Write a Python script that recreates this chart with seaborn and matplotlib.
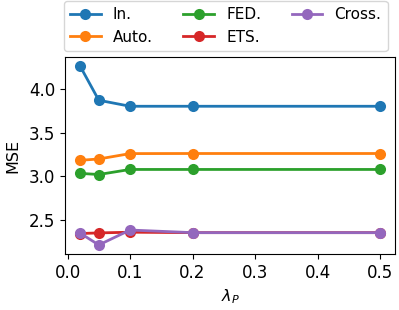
#MSE vs lambda_P for the different methods
import pandas as pd
import seaborn as sns
from matplotlib import pyplot as plt

#values
lam = [0.02, 0.05, 0.1, 0.2, 0.5]
methods = ['In.', 'Auto.', 'FED.', 'ETS.', 'Cross.']
mse_in = [4.267, 3.874, 3.805, 3.805, 3.805]
mse_auto = [3.185, 3.200, 3.262, 3.263, 3.263]
mse_fed = [3.035, 3.022, 3.080, 3.080, 3.080]
mse_ets = [2.345, 2.352, 2.360, 2.355, 2.355]
mse_cross = [2.350, 2.214, 2.385, 2.355, 2.355]

#long form table for seaborn
rows = []
for name, vals in zip(methods, [mse_in, mse_auto, mse_fed, mse_ets, mse_cross]):
    for x, y in zip(lam, vals):
        rows.append({'lam': x, 'MSE': y, 'method': name})
df = pd.DataFrame(rows)

fig = plt.figure(figsize=(3.99, 3.10), dpi=100)
ax = fig.add_axes([0.163, 0.181, 0.827, 0.635])
sns.lineplot(data=df, x='lam', y='MSE', hue='method', hue_order=methods,
             palette=['tab:blue', 'tab:orange', 'tab:green', 'tab:red', 'tab:purple'],
             marker='o', markersize=8, markeredgewidth=0, linewidth=2, ax=ax)

ax.set_xlabel(r'$\lambda_P$', fontsize=11.5)
ax.set_ylabel('MSE', fontsize=11.5, labelpad=6)
ax.set_xticks([0.0, 0.1, 0.2, 0.3, 0.4, 0.5])
ax.set_yticks([2.5, 3.0, 3.5, 4.0])
ax.tick_params(labelsize=12)
ax.legend(loc='lower center', bbox_to_anchor=(0.487, 1.0), ncol=3, fontsize=11,
          borderaxespad=0.4)

plt.savefig('out.png', dpi=100)
